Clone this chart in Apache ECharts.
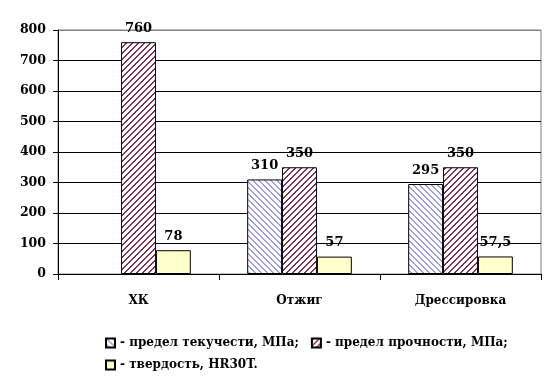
<!DOCTYPE html>
<html><head><meta charset="utf-8">
<script src="https://cdn.jsdelivr.net/npm/echarts@6/dist/echarts.min.js"></script>
<style>html,body{margin:0;padding:0;background:#fff}#c{width:559px;height:385px}</style>
</head><body><div id="c"></div>
<script>
const categories = ['ХК', 'Отжиг', 'Дрессировка'];
const yieldStrength = [null, 310, 295];
const tensileStrength = [760, 350, 350];
const hardness = [78, 57, 57.5];
const seriesNames = ['- предел текучести, МПа;', '- предел прочности, МПа;', '- твердость, HR30T.'];
const yTicks = [0, 100, 200, 300, 400, 500, 600, 700, 800];

function stripes(rgb, dir, size, w) {
  const c = document.createElement('canvas');
  c.width = size; c.height = size;
  const g = c.getContext('2d');
  const img = g.createImageData(size, size);
  for (let y = 0; y < size; y++) for (let x = 0; x < size; x++) {
    const t = dir === '/' ? (x + y) % size : ((x - y) % size + size) % size;
    const on = t < w;
    const i = (y * size + x) * 4;
    img.data[i] = on ? rgb[0] : 255; img.data[i + 1] = on ? rgb[1] : 255;
    img.data[i + 2] = on ? rgb[2] : 255; img.data[i + 3] = 255;
  }
  g.putImageData(img, 0, 0);
  return { image: c, repeat: 'repeat' };
}

const font = '"DejaVu Serif", "Liberation Serif", serif';
const lbl = {
  show: true, position: 'top', distance: 7,
  fontFamily: font, fontWeight: 'bold', fontSize: 13, color: '#000',
  formatter: p => String(p.value).replace('.', ',')
};
const gridColors = yTicks.map((v, i) => i === yTicks.length - 1 ? '#808080' : '#000');

const chart = echarts.init(document.getElementById('c'), null, { renderer: 'canvas' });
chart.setOption({
  animation: false,
  grid: { left: 58, right: 18, top: 30, bottom: 111, show: true, borderColor: '#808080', borderWidth: 1 },
  xAxis: {
    type: 'category', data: categories,
    axisLine: { lineStyle: { color: '#000', width: 1 } },
    axisTick: { show: true, length: 6, lineStyle: { color: '#000' } },
    axisLabel: { fontFamily: font, fontWeight: 'bold', fontSize: 12, color: '#000', margin: 21 }
  },
  yAxis: {
    type: 'value', min: 0, max: 800, interval: 100,
    axisLine: { show: true, lineStyle: { color: '#000', width: 1 } },
    axisTick: { show: true, length: 5, lineStyle: { color: '#000' } },
    axisLabel: { fontFamily: font, fontWeight: 'bold', fontSize: 12.5, color: '#000', margin: 12 },
    splitLine: { lineStyle: { color: gridColors, width: 1 } }
  },
  legend: [
    { data: [seriesNames[0], seriesNames[1]], left: 100, top: 332, itemWidth: 9, itemHeight: 9, itemGap: 12,
      textStyle: { fontFamily: font, fontWeight: 'bold', fontSize: 12, color: '#000' }, icon: 'rect' },
    { data: [seriesNames[2]], left: 100, top: 354, itemWidth: 9, itemHeight: 9,
      textStyle: { fontFamily: font, fontWeight: 'bold', fontSize: 12, color: '#000' }, icon: 'rect' }
  ],
  series: [
    { name: seriesNames[0], type: 'bar', data: yieldStrength, barGap: '0%', barCategoryGap: '35%',
      itemStyle: { color: stripes([160, 160, 224], '\\', 6, 2), borderColor: '#000', borderWidth: 1 }, label: lbl },
    { name: seriesNames[1], type: 'bar', data: tensileStrength, barGap: '0%', barCategoryGap: '35%',
      itemStyle: { color: stripes([127, 51, 87], '/', 6, 2), borderColor: '#000', borderWidth: 1 }, label: lbl },
    { name: seriesNames[2], type: 'bar', data: hardness, barGap: '0%', barCategoryGap: '35%',
      itemStyle: { color: '#ffffcc', borderColor: '#000', borderWidth: 1 }, label: lbl }
  ]
});
</script></body></html>
